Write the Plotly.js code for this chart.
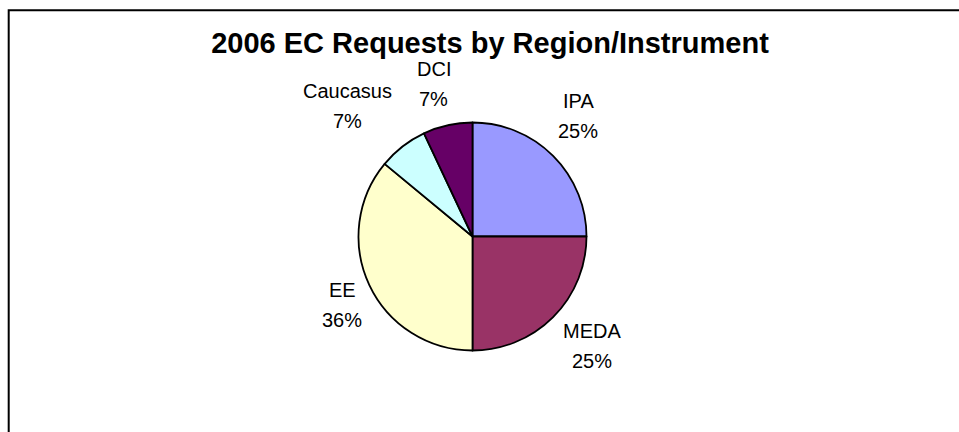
<!DOCTYPE html>
<html>
<head>
<meta charset="utf-8">
<script src="https://cdn.plot.ly/plotly-3.0.1.min.js"></script>
<style>html,body{margin:0;padding:0;background:#fff}#chart{width:959px;height:432px}</style>
</head>
<body>
<div id="chart"></div>
<script>
// ---- data ----
const categories = ["IPA", "MEDA", "EE", "Caucasus", "DCI"];
const shares = [25, 25, 36, 7, 7];
const chartTitle = "2006 EC Requests by Region/Instrument";

// ---- styles / layout constants ----
const sliceColors = ["#9999FF", "#993366", "#FFFFCC", "#CCFFFF", "#660066"];
const labelNudgeX = [-4, 10, 10, -30, -5];   // px, small Excel-like label offsets
const labelNudgeY = [-11, 0, 3, -8, -1];
const FONT = "Liberation Sans, Arial, sans-serif";
const W = 959, H = 432;
const cx = 472.5, cy = 236.5, R = 114;
const labelRadius = 155;
const lineGap = 15;

const trace = {
  type: "pie",
  labels: categories,
  values: shares,
  sort: false,
  direction: "clockwise",
  rotation: 0,
  marker: {colors: sliceColors, line: {color: "#000000", width: 1.8}},
  textinfo: "none",
  hoverinfo: "label+percent",
  showlegend: false,
  domain: {x: [(cx - R) / W, (cx + R) / W], y: [(H - cy - R) / H, (H - cy + R) / H]}
};

// labels placed outside each slice at its middle angle
const total = shares.reduce((a, b) => a + b, 0);
const annotations = [];
let cum = 0;
shares.forEach((v, i) => {
  const mid = (cum + v / 2) / total * 2 * Math.PI;
  cum += v;
  const px = cx + labelRadius * Math.sin(mid) + labelNudgeX[i];
  const py = cy - labelRadius * Math.cos(mid) + labelNudgeY[i];
  const pct = Math.round(v / total * 100) + "%";
  [[categories[i], py - lineGap], [pct, py + lineGap]].forEach(([t, y]) => {
    annotations.push({
      text: t, xref: "paper", yref: "paper",
      x: px / W, y: 1 - y / H, xanchor: "center", yanchor: "middle",
      showarrow: false, font: {family: FONT, size: 20, color: "#000000"}
    });
  });
});

const layout = {
  width: W, height: H,
  margin: {l: 0, r: 0, t: 0, b: 0},
  paper_bgcolor: "#ffffff",
  showlegend: false,
  title: {
    text: "<b>" + chartTitle + "</b>",
    font: {family: FONT, size: 29, color: "#000000"},
    x: 490 / W, xanchor: "center", xref: "paper",
    y: 1 - 43 / H, yanchor: "middle", yref: "container"
  },
  annotations: annotations,
  shapes: [{
    type: "rect", xref: "paper", yref: "paper",
    x0: 8.7 / W, x1: 1.02, y0: -0.02, y1: 1 - 10.3 / H,
    line: {color: "#000000", width: 2}, fillcolor: "rgba(0,0,0,0)"
  }]
};

Plotly.newPlot("chart", [trace], layout, {displayModeBar: false, staticPlot: true});
</script>
</body>
</html>
